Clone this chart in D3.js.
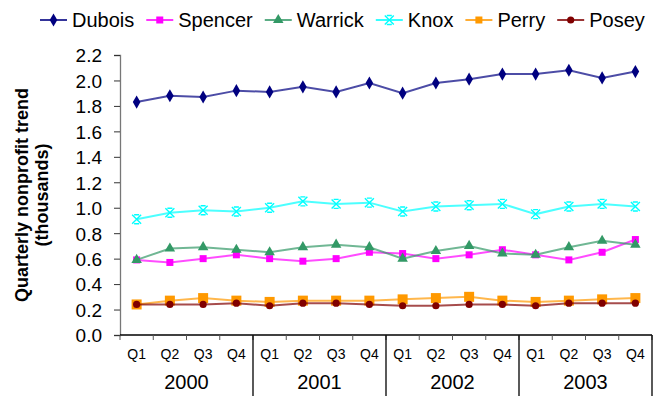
<!DOCTYPE html>
<html>
<head>
<meta charset="utf-8">
<script src="https://cdn.jsdelivr.net/npm/d3@7"></script>
<style>
  html, body { margin: 0; padding: 0; background: #fff; }
  svg { display: block; font-family: "Liberation Sans", Arial, sans-serif; }
</style>
</head>
<body>
<svg id="chart" width="671" height="396"></svg>
<script>
// Quarterly nonprofit counts (thousands) by county, 2000–2003
const years = ["2000", "2001", "2002", "2003"];
const quarters = ["Q1", "Q2", "Q3", "Q4"];
const yTicks = [0, 0.2, 0.4, 0.6, 0.8, 1.0, 1.2, 1.4, 1.6, 1.8, 2.0, 2.2];

const dubois  = [1.83, 1.88, 1.87, 1.92, 1.91, 1.95, 1.91, 1.98, 1.90, 1.98, 2.01, 2.05, 2.05, 2.08, 2.02, 2.07];
const spencer = [0.59, 0.57, 0.60, 0.63, 0.60, 0.58, 0.60, 0.65, 0.64, 0.60, 0.63, 0.67, 0.63, 0.59, 0.65, 0.75];
const warrick = [0.59, 0.68, 0.69, 0.67, 0.65, 0.69, 0.71, 0.69, 0.60, 0.66, 0.70, 0.64, 0.63, 0.69, 0.74, 0.71];
const knox    = [0.91, 0.96, 0.98, 0.97, 1.00, 1.05, 1.03, 1.04, 0.97, 1.01, 1.02, 1.03, 0.95, 1.01, 1.03, 1.01];
const perry   = [0.24, 0.27, 0.29, 0.27, 0.26, 0.27, 0.27, 0.27, 0.28, 0.29, 0.30, 0.27, 0.26, 0.27, 0.28, 0.29];
const posey   = [0.24, 0.24, 0.24, 0.25, 0.23, 0.25, 0.25, 0.24, 0.23, 0.23, 0.24, 0.24, 0.23, 0.25, 0.25, 0.25];

const seriesNames = ["Dubois", "Spencer", "Warrick", "Knox", "Perry", "Posey"];
const seriesValues = [dubois, spencer, warrick, knox, perry, posey];

const styles = {
  Dubois:  { color: "#000080", marker: "diamond" },
  Spencer: { color: "#ff00ff", marker: "square" },
  Warrick: { color: "#339966", marker: "triangle" },
  Knox:    { color: "#00ffff", marker: "x" },
  Perry:   { color: "#ff9900", marker: "bigsquare" },
  Posey:   { color: "#800000", marker: "circle" }
};

const svg = d3.select("#chart");
const plot = { left: 120, right: 652, top: 55, bottom: 335 };

// one slot per quarter across all years
const slots = years.flatMap(y => quarters.map(q => y + "-" + q));

const x = d3.scaleBand().domain(slots).range([plot.left, plot.right]).padding(0);
const xc = d => x(d) + x.bandwidth() / 2;
const y = d3.scaleLinear().domain([0, 2.2]).range([plot.bottom, plot.top]);

// y axis
const yAxis = d3.axisLeft(y)
  .tickValues(yTicks)
  .tickFormat(d3.format(".1f"))
  .tickSize(6)
  .tickPadding(12);
const gy = svg.append("g").attr("transform", `translate(${plot.left},0)`).call(yAxis);
gy.select(".domain").attr("stroke", "#777").attr("stroke-width", 1.3);
gy.selectAll(".tick line").attr("stroke", "#333");
gy.selectAll(".tick text")
  .attr("fill", "#000")
  .style("font-size", "19px")
  .attr("dy", "0.36em");

// y title
const title = svg.append("text")
  .attr("transform", `translate(0,${(plot.top + plot.bottom) / 2}) rotate(-90)`)
  .attr("text-anchor", "middle")
  .style("font-size", "18px")
  .style("font-weight", "bold");
title.append("tspan").attr("x", 0).attr("y", 28).text("Quarterly nonprofit trend");
title.append("tspan").attr("x", 0).attr("y", 48).text("(thousands)");

// x axis: quarter labels at band centres
const xAxis = d3.axisBottom(x).tickSize(0).tickPadding(14).tickFormat(d => d.split("-")[1]);
const gx = svg.append("g").attr("transform", `translate(0,${plot.bottom})`).call(xAxis);
gx.select(".domain").remove();
gx.selectAll(".tick text").attr("fill", "#000").style("font-size", "14px");

svg.append("line")
  .attr("x1", plot.left).attr("x2", plot.right)
  .attr("y1", plot.bottom).attr("y2", plot.bottom)
  .attr("stroke", "#000").attr("stroke-width", 1.3);

// small ticks at quarter boundaries
const boundaries = slots.map(s => x(s)).concat([plot.right]);
svg.append("g").selectAll("line").data(boundaries).join("line")
  .attr("x1", d => d).attr("x2", d => d)
  .attr("y1", plot.bottom).attr("y2", plot.bottom + 5)
  .attr("stroke", "#555").attr("stroke-width", 1);

// year separators running to the bottom
const yearEdges = years.slice(1).map(yr => x(yr + "-Q1")).concat([plot.right]);
svg.append("g").selectAll("line").data(yearEdges).join("line")
  .attr("x1", d => d).attr("x2", d => d)
  .attr("y1", plot.bottom).attr("y2", 396)
  .attr("stroke", "#000").attr("stroke-width", 1.3);

// year labels centred under their four quarters
svg.append("g").selectAll("text").data(years).join("text")
  .attr("x", yr => (x(yr + "-Q1") + x(yr + "-Q4") + x.bandwidth()) / 2)
  .attr("y", 389)
  .attr("text-anchor", "middle")
  .style("font-size", "20px")
  .text(yr => yr);

// markers
function drawMarker(g, type, color) {
  switch (type) {
    case "diamond":
      g.append("path").attr("d", d3.symbol(d3.symbolDiamond, 50)()).attr("fill", color); break;
    case "square":
      g.append("rect").attr("x", -3.5).attr("y", -3.5).attr("width", 7).attr("height", 7).attr("fill", color); break;
    case "bigsquare":
      g.append("rect").attr("x", -5).attr("y", -5).attr("width", 10).attr("height", 10).attr("fill", color); break;
    case "triangle":
      g.append("path").attr("d", d3.symbol(d3.symbolTriangle, 48)()).attr("fill", color); break;
    case "circle":
      g.append("circle").attr("r", 3.6).attr("fill", color); break;
    case "x":
      g.append("path").attr("d", "M-4.5,-4.5L4.5,4.5M-4.5,4.5L4.5,-4.5M-2.5,-4.5L2.5,-4.5M-2.5,4.5L2.5,4.5")
        .attr("stroke", color).attr("stroke-width", 1.4).attr("fill", "none"); break;
  }
}

const line = d3.line().x((d, i) => xc(slots[i])).y(d => y(d));

seriesNames.forEach((name, k) => {
  const vals = seriesValues[k];
  const st = styles[name];
  svg.append("path")
    .datum(vals)
    .attr("d", line)
    .attr("fill", "none")
    .attr("stroke", st.color)
    .attr("stroke-opacity", 0.7)
    .attr("stroke-width", 2);
  svg.append("g").selectAll("g").data(vals).join("g")
    .attr("transform", (d, i) => `translate(${xc(slots[i])},${y(d)})`)
    .each(function () { drawMarker(d3.select(this), st.marker, st.color); });
});

// legend
const legend = svg.append("g");
let lx = 40;
seriesNames.forEach(name => {
  const st = styles[name];
  const item = legend.append("g").attr("transform", `translate(${lx},20)`);
  item.append("line").attr("x1", 0).attr("x2", 27).attr("y1", 0).attr("y2", 0)
    .attr("stroke", st.color).attr("stroke-width", 1.6);
  const m = item.append("g").attr("transform", "translate(13.5,0)");
  drawMarker(m, st.marker === "bigsquare" ? "square" : st.marker, st.color);
  const t = item.append("text").attr("x", 32).attr("y", 7).style("font-size", "20px").text(name);
  lx += 32 + t.node().getComputedTextLength() + 12;
});
</script>
</body>
</html>
